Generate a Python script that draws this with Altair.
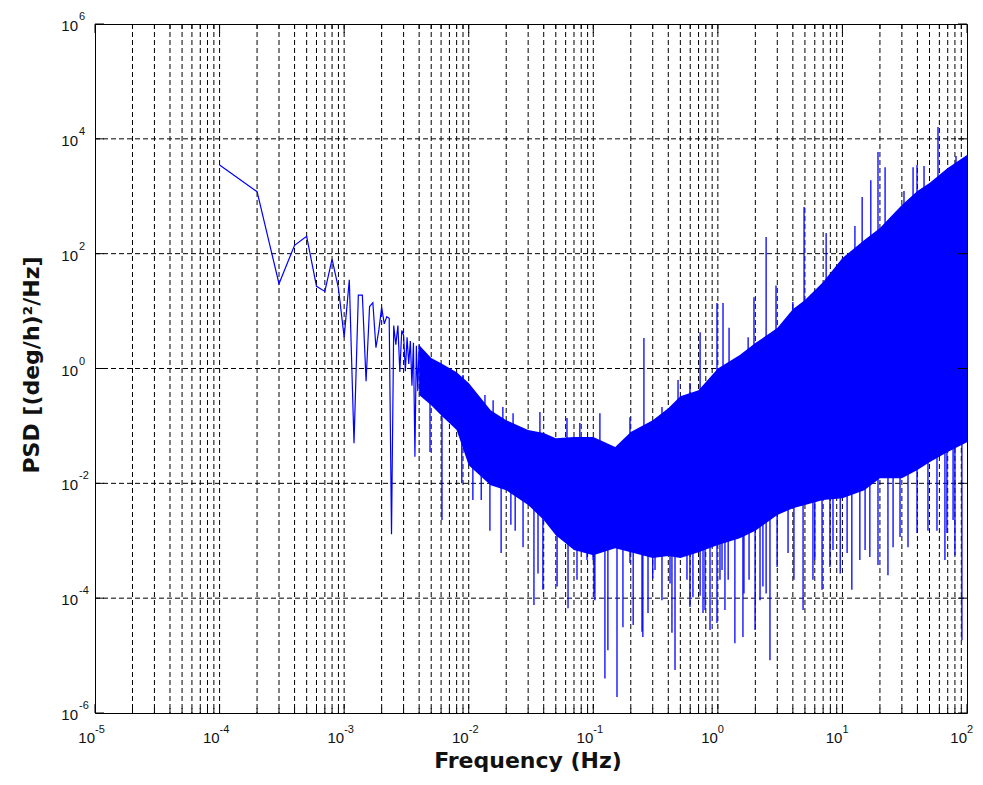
import altair as alt
import pandas as pd

# ---------------- data ----------------
# sparse low-frequency part of the PSD (Hz, (deg/h)^2/Hz)
line_f = [1.0e-4, 2.0e-4, 3.0e-4, 4.0e-4, 5.0e-4, 6.0e-4, 7.0e-4, 8.0e-4, 9.0e-4,
          1.0e-3, 1.1e-3, 1.2e-3, 1.3e-3, 1.4e-3, 1.5e-3, 1.6e-3, 1.7e-3, 1.8e-3,
          1.9e-3, 2.0e-3, 2.1e-3, 2.2e-3, 2.3e-3, 2.4e-3, 2.5e-3, 2.6e-3, 2.7e-3,
          2.8e-3, 2.9e-3, 3.0e-3, 3.1e-3, 3.2e-3, 3.3e-3, 3.4e-3, 3.5e-3, 3.6e-3,
          3.7e-3, 3.8e-3, 3.9e-3, 4.0e-3]
line_p = [3500, 1200, 30, 140, 200, 27, 22, 80, 25,
          3.5, 35, 0.05, 19, 19, 0.6, 12, 14, 2.3,
          4.7, 11.6, 6.0, 8.0, 7.5, 0.0013, 5.6, 2.6, 5.6,
          0.87, 4.6, 3.8, 0.9, 3.5, 1.2, 3.0, 0.5, 2.8,
          0.029, 2.5, 0.4, 2.6]

# dense part: upper and lower edge of the filled band
band_f = [4e-3, 5e-3, 6e-3, 8e-3, 1e-2, 1.5e-2, 2e-2, 3e-2, 4e-2, 5e-2, 7e-2,
          0.1, 0.15, 0.2, 0.3, 0.4, 0.5, 0.7, 1, 1.5, 2, 3, 4, 5, 7,
          10, 15, 20, 30, 40, 50, 70, 100]
band_hi = [2.56, 1.52, 1.24, 0.86, 0.557, 0.188, 0.126, 0.0845, 0.075, 0.061, 0.064,
           0.064, 0.043, 0.078, 0.126, 0.204, 0.33, 0.42, 1.0, 1.71, 2.77, 5.06, 10.8, 15.6, 32,
           84, 173, 279, 703, 1230, 1700, 3100, 5220]
band_lo = [0.344, 0.23, 0.154, 0.0845, 0.0207, 0.0093, 0.0076, 0.0042, 0.0023, 0.00125, 6.9e-4,
           5.6e-4, 7.4e-4, 6.3e-4, 5.0e-4, 5.4e-4, 5.0e-4, 6.3e-4, 8.4e-4, 1.1e-3, 1.5e-3, 2.8e-3,
           3.7e-3, 4.2e-3, 5.1e-3, 5.5e-3, 7.6e-3, 0.0123, 0.0123, 0.017, 0.0234, 0.035, 0.052]

# downward spikes: frequency, tip value, value inside the band
dn_f = [4.89e-3, 6.1e-3, 8.8e-3, 0.0108, 0.0126, 0.0148, 0.0182, 0.0218, 0.0236, 0.0273,
        0.0334, 0.036, 0.0394, 0.045, 0.0512, 0.0627, 0.074, 0.089, 0.0996, 0.1014,
        0.103, 0.124, 0.131, 0.155, 0.173, 0.197, 0.209, 0.246, 0.25, 0.275,
        0.30, 0.313, 0.356, 0.413, 0.428, 0.453, 0.565, 0.597, 0.631, 0.72,
        0.76, 0.789, 0.865, 0.984, 1.04, 1.08, 1.14, 1.21, 1.37, 1.59,
        1.62, 1.78, 1.99, 2.18, 2.3, 2.44, 2.62, 2.99, 3.66, 4.08,
        4.83, 5.8, 6.0, 6.86, 7.94, 8.4, 9.6, 10.9, 11.9, 13.8,
        15.2, 16.6, 19.3, 23.2, 25.5, 29, 33.6, 39.7, 48.6, 57.4,
        66.5, 69, 77.3, 80, 91]
dn_tip = [0.035, 2.3e-3, 0.01, 5.1e-3, 5.1e-3, 1.5e-3, 6.1e-4, 1.9e-3, 1.5e-3, 7.7e-4,
          7.6e-5, 2.7e-4, 1.4e-4, 3.0e-3, 1.6e-4, 6.7e-5, 2.1e-4, 4.6e-4, 4.6e-4, 1.2e-4,
          9.2e-5, 4.0e-6, 1.24e-5, 1.9e-6, 3.1e-5, 4.1e-4, 3.4e-5, 2.6e-5, 2.1e-5, 5.5e-5,
          2.2e-4, 3.1e-4, 9.2e-5, 1.8e-4, 2.5e-5, 5.6e-6, 2.1e-4, 7.0e-5, 1.04e-4, 1.1e-4,
          5.5e-5, 6.2e-5, 2.8e-5, 3.7e-5, 2.1e-4, 3.1e-4, 6.2e-5, 2.1e-4, 1.64e-5, 2.1e-5,
          1.2e-4, 2.1e-4, 2.8e-5, 9.2e-5, 1.6e-4, 1.2e-4, 8.3e-6, 3.5e-4, 6.1e-4, 2.1e-4,
          6.2e-5, 2.1e-4, 4.6e-4, 1.4e-4, 3.5e-4, 6.9e-4, 2.7e-4, 6.1e-4, 1.4e-4, 4.6e-4,
          6.9e-4, 5.2e-4, 3.8e-4, 2.5e-4, 7.7e-4, 1.16e-3, 7.7e-4, 1.36e-3, 1.5e-3, 1.5e-3,
          4.6e-4, 1.36e-3, 2.3e-3, 5.6e-4, 1.85e-5]
dn_base = [0.5, 0.3, 0.2, 0.05, 0.05, 0.03, 0.03, 0.03, 0.03, 0.03,
           0.01, 0.01, 0.01, 0.01, 0.003, 0.003, 0.003, 0.003, 0.003, 0.003,
           0.003, 0.003, 0.003, 0.003, 0.003, 0.003, 0.003, 0.003, 0.003, 0.003,
           0.003, 0.003, 0.003, 0.003, 0.003, 0.003, 0.003, 0.003, 0.003, 0.003,
           0.003, 0.003, 0.003, 0.003, 0.003, 0.003, 0.003, 0.003, 0.003, 0.003,
           0.003, 0.003, 0.003, 0.003, 0.003, 0.003, 0.003, 0.01, 0.01, 0.01,
           0.1, 0.1, 0.1, 0.1, 0.1, 0.1, 0.1, 0.1, 0.1, 0.1,
           0.1, 0.1, 0.1, 0.1, 0.1, 0.1, 0.1, 0.1, 0.1, 0.1,
           0.1, 0.1, 0.1, 0.1, 0.1]

# upward spikes
up_f = [9.0e-3, 0.0135, 0.0157, 0.0188, 0.0227, 0.0373, 0.0615, 0.078, 0.113, 0.197,
        0.255, 0.356, 0.479, 0.597, 0.72, 0.984, 1.10, 1.23, 1.75, 1.95,
        2.44, 2.93, 4.0, 4.92, 7.4, 12.6, 14.4, 16.9, 19.3, 22,
        31.2, 36.9, 39.7, 45.2, 58.5, 81.6]
up_tip = [0.77, 0.344, 0.28, 0.213, 0.167, 0.174, 0.137, 0.112, 0.167, 0.142,
          3.4, 0.213, 0.63, 0.557, 4.3, 13.8, 13.8, 5.1, 3.5, 17.5,
          195, 28, 14.4, 650, 229, 303, 970, 1900, 5900, 3200,
          1230, 3200, 3500, 3360, 16000, 5000]
up_base = [0.2, 0.1, 0.1, 0.05, 0.05, 0.03, 0.02, 0.02, 0.02, 0.02,
           0.02, 0.05, 0.1, 0.1, 0.1, 0.3, 0.3, 0.3, 1, 1,
           1, 1, 3, 3, 10, 30, 50, 50, 50, 100,
           300, 300, 300, 300, 1000, 1000]

# axis ticks and labels
x_decades = [1e-5, 1e-4, 1e-3, 1e-2, 1e-1, 1e0, 1e1, 1e2]
x_exps = ["-5", "-4", "-3", "-2", "-1", "0", "1", "2"]
minor_mult = [2, 3, 4, 5, 6, 7, 8, 9]
x_minor = [d * m for d in x_decades[:-1] for m in minor_mult]
y_decades = [1e-6, 1e-4, 1e-2, 1e0, 1e2, 1e4, 1e6]
y_exps = ["-6", "-4", "-2", "0", "2", "4", "6"]
y_grid = [1e-4, 1e-2, 1e0, 1e2, 1e4]
titles = ["Frequency (Hz)", "PSD [(deg/h)\u00b2/Hz]"]

# ---------------- chart ----------------
W, H = 872, 689
BLUE = "#0000ff"
xs = alt.Scale(type="log", domain=[1e-5, 1e2], nice=False)
ys = alt.Scale(type="log", domain=[1e-6, 1e6], nice=False)
DASH = [5, 3]
SPIKE_W = 1.3

xgrid_df = pd.DataFrame({"f": x_decades[1:-1] + x_minor})
ygrid_df = pd.DataFrame({"v": y_grid})
xgrid = alt.Chart(xgrid_df).mark_rule(color="black", strokeWidth=1, strokeDash=DASH).encode(
    x=alt.X("f:Q", scale=xs, axis=None), y=alt.value(0), y2=alt.value(H))
ygrid = alt.Chart(ygrid_df).mark_rule(color="black", strokeWidth=1, strokeDash=DASH).encode(
    y=alt.Y("v:Q", scale=ys, axis=None), x=alt.value(0), x2=alt.value(W))

band_df = pd.DataFrame({"f": band_f, "hi": band_hi, "lo": band_lo})
area = alt.Chart(band_df).mark_area(color=BLUE, opacity=1, clip=True).encode(
    x=alt.X("f:Q", scale=xs, axis=None),
    y=alt.Y("hi:Q", scale=ys, axis=None),
    y2="lo:Q",
)

line_df = pd.DataFrame({"f": line_f, "p": line_p})
line = alt.Chart(line_df).mark_line(color=BLUE, strokeWidth=1.2, clip=True).encode(
    x=alt.X("f:Q", scale=xs, axis=None),
    y=alt.Y("p:Q", scale=ys, axis=None),
)

dn_df = pd.DataFrame({"f": dn_f, "tip": dn_tip, "base": dn_base})
dn = alt.Chart(dn_df).mark_rule(color=BLUE, strokeWidth=SPIKE_W, clip=True).encode(
    x=alt.X("f:Q", scale=xs, axis=None),
    y=alt.Y("tip:Q", scale=ys, axis=None),
    y2="base:Q",
)
up_df = pd.DataFrame({"f": up_f, "tip": up_tip, "base": up_base})
up = alt.Chart(up_df).mark_rule(color=BLUE, strokeWidth=SPIKE_W, clip=True).encode(
    x=alt.X("f:Q", scale=xs, axis=None),
    y=alt.Y("tip:Q", scale=ys, axis=None),
    y2="base:Q",
)

# inward tick marks
xmaj = pd.DataFrame({"f": x_decades, "e": x_exps})
xmin = pd.DataFrame({"f": x_minor})
ymaj = pd.DataFrame({"v": y_decades, "e": y_exps})


def xticks(df, y0, y1):
    return alt.Chart(df).mark_rule(color="black", strokeWidth=1).encode(
        x=alt.X("f:Q", scale=xs, axis=None), y=alt.value(y0), y2=alt.value(y1))


def yticks(df, x0, x1):
    return alt.Chart(df).mark_rule(color="black", strokeWidth=1).encode(
        y=alt.Y("v:Q", scale=ys, axis=None), x=alt.value(x0), x2=alt.value(x1))


ticks = [xticks(xmaj, H, H - 9), xticks(xmaj, 0, 9),
         xticks(xmin, H, H - 5), xticks(xmin, 0, 5),
         yticks(ymaj, 0, 9), yticks(ymaj, W, W - 9)]

LABEL_FONT = "Liberation Sans"
TITLE_FONT = "DejaVu Sans"
x_lab10 = alt.Chart(xmaj).mark_text(align="right", baseline="alphabetic", fontSize=15,
                                    font=LABEL_FONT, color="#111").encode(
    x=alt.X("f:Q", scale=xs, axis=None), y=alt.value(H + 30), text=alt.value("10"))
x_labexp = alt.Chart(xmaj).mark_text(align="left", baseline="alphabetic", fontSize=11,
                                     font=LABEL_FONT, color="#111", dx=0).encode(
    x=alt.X("f:Q", scale=xs, axis=None), y=alt.value(H + 20), text="e:N")
y_lab10 = alt.Chart(ymaj).mark_text(align="right", baseline="alphabetic", fontSize=15,
                                    font=LABEL_FONT, color="#111", dy=7).encode(
    y=alt.Y("v:Q", scale=ys, axis=None), x=alt.value(-17), text=alt.value("10"))
y_labexp = alt.Chart(ymaj).mark_text(align="left", baseline="alphabetic", fontSize=11,
                                     font=LABEL_FONT, color="#111", dy=-4).encode(
    y=alt.Y("v:Q", scale=ys, axis=None), x=alt.value(-16), text="e:N")

xt_df = pd.DataFrame({"t": [titles[0]]})
yt_df = pd.DataFrame({"t": [titles[1]]})
x_title = alt.Chart(xt_df).mark_text(align="center", baseline="alphabetic", fontSize=22,
                                     font=TITLE_FONT, fontWeight="bold", color="#111").encode(
    x=alt.value(433), y=alt.value(744), text="t:N")
y_title = alt.Chart(yt_df).mark_text(align="center", baseline="middle", fontSize=22, angle=270,
                                     font=TITLE_FONT, fontWeight="bold", color="#111").encode(
    x=alt.value(-63), y=alt.value(341), text="t:N")

chart = alt.layer(xgrid, ygrid, area, line, dn, up, *ticks, x_lab10, x_labexp, y_lab10,
                  y_labexp, x_title, y_title).properties(
    width=W, height=H,
    autosize=alt.AutoSizeParams(type="none"),
    padding={"left": 87, "top": 16, "right": 8, "bottom": 59},
    background="white",
).configure_view(stroke="black", strokeWidth=1)

chart.save("out.html", embed_options={"renderer": "svg", "actions": False})
